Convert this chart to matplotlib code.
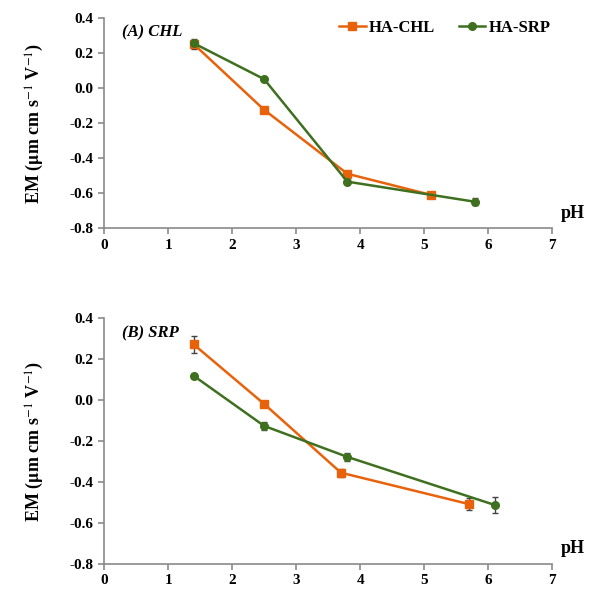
import numpy as np
import matplotlib
matplotlib.use("Agg")
import matplotlib.pyplot as plt
from matplotlib.lines import Line2D

plt.rcParams['font.family'] = ['Liberation Serif', 'DejaVu Serif']
plt.rcParams['mathtext.fontset'] = 'stix'

# panel A: CHL
a_chl_x = [1.4, 2.5, 3.8, 5.1]
a_chl_y = [0.25, -0.125, -0.49, -0.61]
a_chl_e = [0.03, 0.01, 0.01, 0.01]
a_srp_x = [1.4, 2.5, 3.8, 5.8]
a_srp_y = [0.255, 0.05, -0.535, -0.65]
a_srp_e = [0.01, 0.01, 0.015, 0.02]

# panel B: SRP
b_chl_x = [1.4, 2.5, 3.7, 5.7]
b_chl_y = [0.27, -0.02, -0.355, -0.508]
b_chl_e = [0.04, 0.01, 0.02, 0.03]
b_srp_x = [1.4, 2.5, 3.8, 6.1]
b_srp_y = [0.117, -0.127, -0.278, -0.512]
b_srp_e = [0.01, 0.02, 0.02, 0.04]

orange = '#E8620C'
green = '#3F7020'
axcol = '#8a8a8a'

fig = plt.figure(figsize=(5.95, 5.94), dpi=100)
ax1 = fig.add_axes([0.175, 0.616, 0.753, 0.354])
ax2 = fig.add_axes([0.175, 0.0505, 0.753, 0.4145])

panels = [
    (ax1, a_chl_x, a_chl_y, a_chl_e, a_srp_x, a_srp_y, a_srp_e, '(A) CHL'),
    (ax2, b_chl_x, b_chl_y, b_chl_e, b_srp_x, b_srp_y, b_srp_e, '(B) SRP'),
]

for ax, cx, cy, ce, sx, sy, se, lab in panels:
    ax.errorbar(cx, cy, yerr=ce, color=orange, marker='s', ms=6, lw=1.8,
                capsize=2.5, elinewidth=1, ecolor='#444444')
    ax.errorbar(sx, sy, yerr=se, color=green, marker='o', ms=5.5, lw=1.8,
                capsize=2.5, elinewidth=1, ecolor='#444444')
    ax.set_xlim(0, 7)
    ax.set_ylim(-0.8, 0.4)
    ax.set_xticks(range(8))
    ax.set_yticks(np.arange(-0.8, 0.41, 0.2))
    ax.yaxis.set_major_formatter(matplotlib.ticker.FuncFormatter(
        lambda v, p: '%.1f' % (0.0 if abs(v) < 1e-9 else v)))
    for s in ['top', 'right']:
        ax.spines[s].set_visible(False)
    for s in ['left', 'bottom']:
        ax.spines[s].set_color(axcol)
        ax.spines[s].set_linewidth(1.2)
    ax.tick_params(colors=axcol, length=4, width=1.2, direction='out')
    for t in ax.get_xticklabels() + ax.get_yticklabels():
        t.set_fontweight('bold')
        t.set_fontsize(11)
        t.set_color('black')
    ax.set_ylabel(r'EM ($\mathbf{\mu}$m cm s$^{-1}$ V$^{-1}$)', fontsize=13,
                  fontweight='bold', labelpad=17)
    ax.text(0.04, 0.97, lab, transform=ax.transAxes, fontsize=12,
            fontweight='bold', fontstyle='italic', va='top', ha='left')
    ax.text(1.02, 0.03, 'pH', transform=ax.transAxes, fontsize=13,
            fontweight='bold', va='bottom', ha='left', clip_on=False)

handles = [Line2D([], [], color=orange, marker='s', ms=6, lw=1.8),
           Line2D([], [], color=green, marker='o', ms=5.5, lw=1.8)]
ax1.legend(handles, ['HA-CHL', 'HA-SRP'], loc='upper right',
           bbox_to_anchor=(1.03, 1.06), ncol=2, frameon=False,
           handlelength=1.6, handletextpad=0.2, columnspacing=1.4,
           prop={'weight': 'bold', 'size': 12})

fig.savefig('out.png', dpi=100)
